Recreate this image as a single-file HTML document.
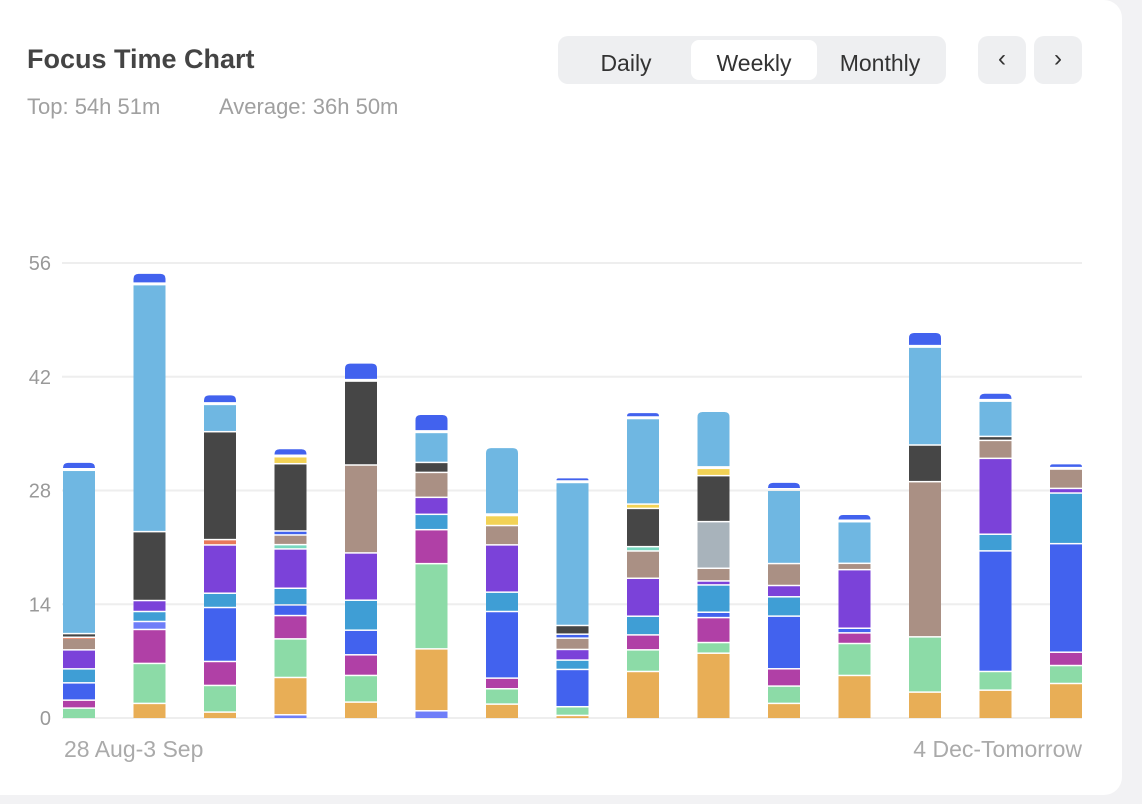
<!DOCTYPE html>
<html><head><meta charset="utf-8"><style>
body{margin:0;width:1142px;height:804px;background:#f2f2f4;font-family:"Liberation Sans",sans-serif;overflow:hidden}
#card{position:absolute;left:0;top:0;width:1122px;height:795px;background:#fff;border-radius:0 18px 18px 0}
.title{position:absolute;left:27px;top:44px;font-size:27px;font-weight:bold;color:#444}
.sub{position:absolute;top:94px;font-size:22px;color:#a0a0a0}
#seg{position:absolute;left:558px;top:36px;width:388px;height:48px;background:#eeeff1;border-radius:10px}
.opt{position:absolute;top:4px;height:40px;line-height:46px;text-align:center;font-size:23px;color:#333;border-radius:8px}
.nav{position:absolute;top:36px;width:48px;height:48px;background:#eeeff1;border-radius:10px;text-align:center;line-height:46px;font-size:24px;color:#333}
svg{position:absolute;left:0;top:0}
</style></head><body>
<div id="card">
<div class="title">Focus Time Chart</div>
<div class="sub" style="left:27px">Top: 54h 51m</div>
<div class="sub" style="left:219px">Average: 36h 50m</div>
<div id="seg">
<div class="opt" style="left:4px;width:128px">Daily</div>
<div class="opt" style="left:133px;width:126px;background:#fff">Weekly</div>
<div class="opt" style="left:260px;width:124px">Monthly</div>
</div>
<div class="nav" style="left:978px">&#8249;</div>
<div class="nav" style="left:1034px">&#8250;</div>
</div>
<svg id="chart" width="1142" height="804"></svg>
<script>
const yTicks=[0,14,28,42,56];
const xLabels=["28 Aug-3 Sep","4 Dec-Tomorrow"];
const colors={or:"#e8ae56",gr:"#8cdba7",ma:"#b040a6",bl:"#4262ee",cy:"#3f9ed5",pu:"#7b42d9",br:"#aa9084",dk:"#464646",lb:"#6fb7e2",ye:"#f2d255",te:"#7ad8c0",gy:"#a8b3bb",re:"#e8785a",pw:"#6f7ef8"};
const bar1=[["gr",1.31],["ma",0.98],["bl",2.13],["cy",1.72],["pu",2.34],["br",1.43],["re",0.12],["dk",0.45],["lb",20.1],["bl",0.82]];
const bar2=[["or",1.89],["gr",4.92],["ma",4.18],["pw",0.98],["cy",1.23],["pu",1.35],["dk",8.48],["lb",30.4],["bl",1.23]];
const bar3=[["or",0.82],["gr",3.28],["ma",2.95],["bl",6.64],["cy",1.76],["pu",5.94],["re",0.66],["dk",13.28],["lb",3.36],["bl",1.02]];
const bar4=[["pw",0.49],["or",4.59],["gr",4.75],["ma",2.87],["bl",1.31],["cy",2.05],["pu",4.84],["te",0.53],["br",1.19],["bl",0.49],["dk",8.28],["ye",0.86],["bl",0.82]];
const bar5=[["or",2.05],["gr",3.28],["ma",2.54],["bl",3.03],["cy",3.69],["pu",5.82],["br",10.82],["dk",10.33],["bl",2.05]];
const bar6=[["pw",0.98],["or",7.62],["gr",10.49],["ma",4.18],["cy",1.89],["pu",2.09],["br",3.07],["dk",1.23],["lb",3.69],["bl",2.05]];
const bar7=[["or",1.8],["gr",1.89],["ma",1.31],["bl",8.2],["cy",2.38],["pu",5.82],["br",2.38],["ye",1.23],["lb",8.2]];
const bar8=[["or",0.41],["gr",1.07],["bl",4.59],["cy",1.15],["pu",1.31],["br",1.39],["bl",0.49],["dk",1.07],["lb",17.6],["bl",0.41]];
const bar9=[["or",5.82],["gr",2.66],["ma",1.84],["cy",2.3],["pu",4.67],["br",3.36],["te",0.53],["dk",4.71],["ye",0.53],["lb",10.53],["bl",0.57]];
const bar10=[["or",8.07],["gr",1.31],["ma",3.07],["bl",0.66],["cy",3.36],["pu",0.49],["br",1.56],["gy",5.74],["dk",5.66],["ye",0.9],["lb",6.84]];
const bar11=[["or",1.89],["gr",2.13],["ma",2.13],["bl",6.48],["cy",2.38],["pu",1.39],["br",2.7],["lb",9.02],["bl",0.82]];
const bar12=[["or",5.33],["gr",3.93],["ma",1.31],["bl",0.57],["pu",7.21],["br",0.78],["lb",5.12],["bl",0.74]];
const bar13=[["or",3.28],["gr",6.8],["br",19.1],["dk",4.51],["lb",12.05],["bl",1.64]];
const bar14=[["or",3.52],["gr",2.3],["bl",14.84],["cy",2.05],["pu",9.34],["br",2.21],["dk",0.49],["lb",4.34],["bl",0.82]];
const bar15=[["or",4.34],["gr",2.21],["ma",1.64],["bl",13.36],["cy",6.23],["pu",0.57],["br",2.38],["bl",0.49]];
const bars=[bar1,bar2,bar3,bar4,bar5,bar6,bar7,bar8,bar9,bar10,bar11,bar12,bar13,bar14,bar15];

const NS="http://www.w3.org/2000/svg",svg=document.getElementById("chart");
const y0=718,pxPer=455/56;
const yS=v=>y0-v*pxPer;
const xS=i=>79+i*70.5;
function mk(t,a){const e=document.createElementNS(NS,t);for(const k in a)e.setAttribute(k,a[k]);svg.appendChild(e);return e;}
yTicks.forEach(t=>{
  const l=mk("line",{x1:62,x2:1082,y1:yS(t),y2:yS(t),stroke:"#eeeeee","stroke-width":2});
  
  
  const tx=mk("text",{x:51,y:yS(t)+7,"text-anchor":"end","font-size":20,fill:"#999"});
  tx.textContent=t;
  
  
});
bars.forEach((segs,i)=>{
  let acc=0;const x=xS(i)-16;
  segs.forEach((s,j)=>{
    const b=yS(acc);acc+=s[1];const t=yS(acc);
    const h=Math.max(b-t-1.5,0.8);
    let e;
    if(j===segs.length-1){
      const r=Math.min(5,h);
      e=mk("path",{d:`M${x},${t+h} L${x},${t+r} Q${x},${t} ${x+r},${t} L${x+32-r},${t} Q${x+32},${t} ${x+32},${t+r} L${x+32},${t+h} Z`,fill:colors[s[0]]});
    } else e=mk("rect",{x:x,y:t+1.5,width:32,height:h,fill:colors[s[0]]});
    
    
  });
});
const l1=mk("text",{x:64,y:757,"font-size":23,fill:"#aaa"});l1.textContent=xLabels[0];


const l2=mk("text",{x:1082,y:757,"text-anchor":"end","font-size":23,fill:"#aaa"});l2.textContent=xLabels[1];


</script>
</body></html>
